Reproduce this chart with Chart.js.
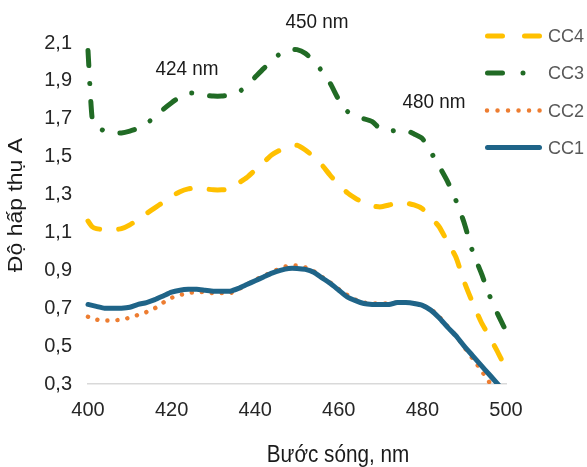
<!DOCTYPE html>
<html>
<head>
<meta charset="utf-8">
<script src="https://cdn.jsdelivr.net/npm/chart.js@4"></script>
<style>
  html, body { margin: 0; padding: 0; background: #fff; }
  #wrap { width: 587px; height: 467px; }
</style>
</head>
<body>
<div id="wrap"><canvas id="spectra"></canvas></div>
<script>
// wavelengths, nm
const wavelengths = [400, 401, 402, 404, 406, 408, 410, 412, 414, 416, 418, 420, 422, 424, 426, 428, 430,
  432, 434, 436, 438, 440, 442, 444, 446, 448, 450, 452, 454, 456, 458, 460, 462, 464, 466, 468, 470,
  472, 474, 476, 478, 480, 482, 484, 486, 488, 490, 492, 494, 496, 498, 500];

const cc1 = [0.72, 0.715, 0.71, 0.70, 0.70, 0.70, 0.705, 0.72, 0.73, 0.745, 0.765, 0.785, 0.795, 0.80, 0.80, 0.795, 0.79,
  0.79, 0.79, 0.805, 0.825, 0.845, 0.865, 0.885, 0.90, 0.91, 0.91, 0.905, 0.89, 0.86, 0.83, 0.795, 0.76, 0.74, 0.725, 0.72, 0.72,
  0.72, 0.73, 0.73, 0.725, 0.715, 0.69, 0.65, 0.60, 0.555, 0.50, 0.45, 0.40, 0.35, 0.30, 0.25];

const cc2 = [0.655, 0.645, 0.64, 0.635, 0.635, 0.64, 0.65, 0.665, 0.68, 0.70, 0.73, 0.755, 0.77, 0.78, 0.785, 0.785, 0.78,
  0.78, 0.78, 0.80, 0.825, 0.85, 0.87, 0.89, 0.91, 0.925, 0.925, 0.915, 0.895, 0.865, 0.835, 0.80, 0.77, 0.745, 0.73, 0.725, 0.725,
  0.725, 0.73, 0.73, 0.725, 0.715, 0.695, 0.655, 0.605, 0.555, 0.495, 0.435, 0.375, 0.31, 0.25, 0.20];

const cc3 = [2.06, 1.70, 1.66, 1.635, 1.625, 1.625, 1.635, 1.65, 1.675, 1.71, 1.75, 1.785, 1.815, 1.835, 1.835, 1.825, 1.82,
  1.82, 1.825, 1.84, 1.875, 1.92, 1.965, 2.005, 2.045, 2.065, 2.065, 2.045, 2.005, 1.95, 1.885, 1.80, 1.74, 1.71, 1.70, 1.685, 1.645,
  1.635, 1.64, 1.64, 1.62, 1.595, 1.525, 1.45, 1.37, 1.27, 1.15, 1.00, 0.89, 0.77, 0.67, 0.58];

const cc4 = [1.16, 1.13, 1.12, 1.115, 1.115, 1.12, 1.14, 1.17, 1.20, 1.23, 1.26, 1.29, 1.315, 1.33, 1.335, 1.33, 1.325,
  1.325, 1.33, 1.36, 1.39, 1.43, 1.47, 1.51, 1.535, 1.55, 1.56, 1.535, 1.50, 1.455, 1.40, 1.355, 1.31, 1.28, 1.255, 1.24, 1.235,
  1.245, 1.255, 1.255, 1.245, 1.225, 1.18, 1.13, 1.05, 0.97, 0.84, 0.73, 0.63, 0.55, 0.47, 0.38];

const seriesNames = ['CC1', 'CC2', 'CC3', 'CC4'];
const peakLabels = ['424 nm', '450 nm', '480 nm'];

const colors = { CC1: '#1f6488', CC2: '#ed7d31', CC3: '#216b25', CC4: '#ffc000' };

function toPoints(values) {
  return wavelengths.map((w, i) => ({ x: w, y: values[i] }));
}

function lineSet(name, values, width, dash) {
  return {
    label: name,
    data: toPoints(values),
    borderColor: colors[name],
    backgroundColor: colors[name],
    borderWidth: width,
    borderDash: dash,
    borderCapStyle: 'round',
    borderJoinStyle: 'round',
    pointRadius: 0,
    tension: 0.2,
    clip: { left: 6, top: 6, right: 6, bottom: 0 }
  };
}

// text squeezed a little sideways, like the original picture
function drawText(ctx, text, x, y, sx, align) {
  ctx.save();
  ctx.translate(x, y);
  ctx.scale(sx, 1);
  ctx.textAlign = align;
  ctx.fillText(text, 0, 0);
  ctx.restore();
}

const extras = {
  id: 'extras',
  afterDraw(chart) {
    const ctx = chart.ctx;
    ctx.save();

    // peak labels
    ctx.fillStyle = '#1a1a1a';
    ctx.font = '21px "Liberation Sans", Arial, sans-serif';
    ctx.textBaseline = 'alphabetic';
    drawText(ctx, peakLabels[0], 187, 75, 0.9, 'center');
    drawText(ctx, peakLabels[1], 317, 28, 0.9, 'center');
    drawText(ctx, peakLabels[2], 434, 108, 0.9, 'center');

    // axis titles
    ctx.font = '23px "Liberation Sans", Arial, sans-serif';
    drawText(ctx, 'Bước sóng, nm', 338, 462, 0.9, 'center');

    ctx.save();
    ctx.translate(17, 205);
    ctx.rotate(-Math.PI / 2);
    ctx.scale(1, 0.85);
    ctx.textAlign = 'center';
    ctx.textBaseline = 'middle';
    ctx.fillText('Độ hấp thụ A', 0, 0);
    ctx.restore();

    // legend, CC4 on top
    const rows = [
      { name: 'CC4', y: 36, width: 5, dash: [15, 22], from: 487.5, to: 540 },
      { name: 'CC3', y: 73, width: 5, dash: [15, 20.5, 0.01, 30], from: 487.5, to: 524 },
      { name: 'CC2', y: 110.5, width: 4.5, dash: [0.01, 10.5], from: 487, to: 540 },
      { name: 'CC1', y: 147.5, width: 5, dash: [], from: 487.5, to: 539.5 }
    ];
    ctx.lineCap = 'round';
    rows.forEach(r => {
      ctx.beginPath();
      ctx.setLineDash(r.dash);
      ctx.strokeStyle = colors[r.name];
      ctx.lineWidth = r.width;
      ctx.moveTo(r.from, r.y);
      ctx.lineTo(r.to, r.y);
      ctx.stroke();
    });
    ctx.setLineDash([]);
    ctx.fillStyle = '#595959';
    ctx.font = '19px "Liberation Sans", Arial, sans-serif';
    ctx.textBaseline = 'middle';
    rows.forEach(r => drawText(ctx, r.name, 548, r.y + 1, 0.95, 'left'));

    ctx.restore();
  }
};

Chart.defaults.font.family = '"Liberation Sans", Arial, sans-serif';
Chart.defaults.color = '#262626';

new Chart(document.getElementById('spectra'), {
  type: 'line',
  data: {
    datasets: [
      lineSet('CC1', cc1, 5, []),
      lineSet('CC2', cc2, 4.5, [0.01, 10]),
      lineSet('CC3', cc3, 5, [15, 18, 0.01, 18]),
      lineSet('CC4', cc4, 5, [15, 19])
    ]
  },
  options: {
    responsive: true,
    maintainAspectRatio: false,
    animation: false,
    layout: { padding: { left: 40, right: 81, top: 43, bottom: 43 } },
    plugins: {
      legend: { display: false },
      tooltip: { enabled: false }
    },
    scales: {
      x: {
        type: 'linear',
        min: 400,
        max: 500,
        grid: { display: false, drawTicks: false },
        border: { display: true, color: '#d9d9d9', width: 1.5 },
        ticks: { stepSize: 20, padding: 14, font: { size: 20 } },
        afterFit(s) { s.height = 40; s.paddingLeft = 0; s.paddingRight = 0; }
      },
      y: {
        min: 0.3,
        max: 2.1,
        grid: { display: false, drawTicks: false },
        border: { display: false },
        ticks: {
          stepSize: 0.2,
          padding: 16,
          font: { size: 20 },
          callback: v => v.toFixed(1).replace('.', ',')
        },
        afterFit(s) { s.width = 48; s.paddingTop = 0; s.paddingBottom = 0; }
      }
    }
  },
  plugins: [extras]
});
</script>
</body>
</html>
